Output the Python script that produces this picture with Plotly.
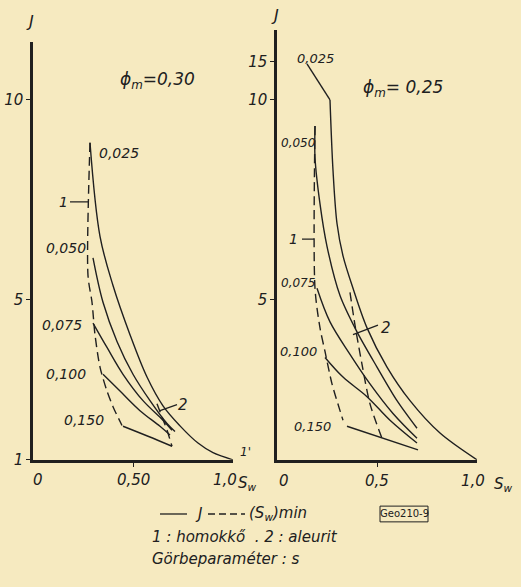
import plotly.graph_objects as go

# ---------------- data: left panel (phi_m = 0.30) ----------------
L025_sw = [0.285, 0.335, 0.40, 0.485, 0.57, 0.65, 0.735, 0.825, 0.90, 1.0]
L025_j = [8.93, 6.59, 5.36, 4.13, 3.07, 2.35, 1.85, 1.42, 1.18, 1.0]
L050_sw = [0.30, 0.35, 0.42, 0.50, 0.585, 0.67, 0.71]
L050_j = [6.05, 4.94, 3.96, 3.14, 2.48, 1.91, 1.71]
L075_sw = [0.30, 0.37, 0.45, 0.55, 0.65, 0.695]
L075_j = [4.42, 3.81, 3.14, 2.48, 1.99, 1.74]
L100_sw = [0.35, 0.435, 0.535, 0.635, 0.685]
L100_j = [3.14, 2.72, 2.23, 1.84, 1.62]
L150_sw = [0.45, 0.575, 0.695]
L150_j = [1.84, 1.59, 1.34]
L_min1_sw = [0.285, 0.275, 0.295, 0.31, 0.335, 0.37, 0.40, 0.445]
L_min1_j = [8.93, 5.61, 4.94, 4.13, 3.32, 2.72, 2.33, 1.86]
L_min2_sw = [0.62, 0.67, 0.695]
L_min2_j = [2.40, 1.75, 1.34]

# ---------------- data: right panel (phi_m = 0.25) ----------------
R025a_sw = [0.15, 0.265]
R025a_j = [14.7, 10.0]
R025_sw = [0.265, 0.28, 0.30, 0.33, 0.38, 0.45, 0.55, 0.665, 0.815, 1.0]
R025_j = [10.0, 8.24, 6.91, 6.10, 5.29, 4.30, 3.32, 2.48, 1.67, 1.0]
R050_sw = [0.19, 0.19, 0.215, 0.25, 0.315, 0.40, 0.50, 0.60, 0.70]
R050_j = [9.35, 8.56, 7.40, 6.34, 5.11, 4.20, 3.32, 2.48, 1.79]
R075_sw = [0.20, 0.265, 0.365, 0.465, 0.58, 0.70]
R075_j = [5.29, 4.45, 3.64, 2.90, 2.16, 1.54]
R100_sw = [0.24, 0.33, 0.45, 0.565, 0.70]
R100_j = [3.56, 3.07, 2.58, 1.99, 1.42]
R150_sw = [0.35, 0.705]
R150_j = [1.84, 1.25]
R_min1_sw = [0.19, 0.19, 0.215, 0.24, 0.275, 0.315, 0.33]
R_min1_j = [9.35, 5.29, 4.30, 3.71, 2.90, 2.23, 1.99]
R_min2_sw = [0.365, 0.39, 0.425, 0.465, 0.525]
R_min2_j = [5.19, 4.37, 3.39, 2.40, 1.54]

# tick labels
left_yticks = [1, 5, 10]
right_yticks = [5, 10, 15]
x_tickvals = [0, 0.5, 1.0]
left_xtext = ["0", "0,50", "1,0"]
right_xtext = ["0", "0,5", "1,0"]


# right panel J axis is compressed above J = 10
def T(j):
    return j if j <= 10 else 10 + (j - 10) * 0.192


INK = "#202020"
BG = "#F6EAC0"
FONT = "DejaVu Sans, Liberation Sans, sans-serif"

fig = go.Figure()


def curve(sw, j, axis, dash="solid", smooth=1.0, tr=False):
    ys = [T(v) for v in j] if tr else j
    line = dict(color=INK, width=1.4, dash=dash)
    if smooth:
        line.update(shape="spline", smoothing=smooth)
    fig.add_trace(go.Scatter(
        x=sw, y=ys, mode="lines", line=line,
        xaxis="x" if axis == 1 else "x2",
        yaxis="y" if axis == 1 else "y2",
        showlegend=False, hoverinfo="skip"))


DASH = "9px,5px"
# left
curve(L025_sw, L025_j, 1, smooth=1.0)
curve(L050_sw, L050_j, 1)
curve(L075_sw, L075_j, 1)
curve(L100_sw, L100_j, 1)
curve(L150_sw, L150_j, 1)
curve(L_min1_sw, L_min1_j, 1, dash=DASH, smooth=0.8)
curve(L_min2_sw, L_min2_j, 1, dash=DASH, smooth=0)
# right
curve(R025a_sw, R025a_j, 2, smooth=0, tr=True)
curve(R025_sw, R025_j, 2, smooth=0.9)
curve(R050_sw, R050_j, 2, smooth=0.8)
curve(R075_sw, R075_j, 2)
curve(R100_sw, R100_j, 2)
curve(R150_sw, R150_j, 2, smooth=0)
curve(R_min1_sw, R_min1_j, 2, dash=DASH, smooth=0.8)
curve(R_min2_sw, R_min2_j, 2, dash=DASH, smooth=0.8)

ax_common = dict(showgrid=False, zeroline=False, showline=True, linecolor=INK,
                 linewidth=2.5, ticks="outside", ticklen=4, tickcolor=INK,
                 tickwidth=1.2,
                 tickfont=dict(family=FONT, size=15, color=INK, style="italic"))

fig.update_layout(
    width=521, height=587,
    margin=dict(l=0, r=0, t=0, b=0),
    paper_bgcolor=BG, plot_bgcolor=BG,
    font=dict(family=FONT, size=14, color=INK, style="italic"),
    xaxis=dict(domain=[33 / 521, 233 / 521], range=[0, 1], anchor="y",
               tickvals=[0.5], ticktext=[""], **ax_common),
    yaxis=dict(domain=[0.2044, 0.9268], range=[1, 11.44], anchor="x",
               tickvals=left_yticks, ticktext=[str(v) for v in left_yticks],
               **ax_common),
    xaxis2=dict(domain=[277 / 521, 477 / 521], range=[0, 1], anchor="y2",
                tickvals=[0.5], ticktext=[""], **ax_common),
    yaxis2=dict(domain=[0.2044, 0.9489], range=[1, 11.76], anchor="x2",
                tickvals=[T(v) for v in right_yticks],
                ticktext=[str(v) for v in right_yticks], **ax_common),
)

ann = []


def txt(x, y, s, xref="paper", yref="paper", size=14, xanchor="center",
        style="italic", yanchor="middle", xshift=0, yshift=0):
    ann.append(dict(x=x, y=y, xref=xref, yref=yref, text=s, showarrow=False,
                    xanchor=xanchor, yanchor=yanchor, xshift=xshift, yshift=yshift,
                    font=dict(family=FONT, size=size, color=INK, style=style)))


# x tick labels (under the axis, offset like the original lettering)
for v, s in zip(x_tickvals, left_xtext):
    sh = {0: 5, 0.5: 0, 1.0: -8}[v]
    txt(v, 0, s, "x", "paper", size=15, xshift=sh, yshift=587 - 489)
for v, s in zip(x_tickvals, right_xtext):
    sh = {0: 7, 0.5: 0, 1.0: -4}[v]
    txt(v, 0, s, "x2", "paper", size=15, xshift=sh, yshift=587 - 490)

# left panel labels
txt(0.43, 8.68, "0,025", "x", "y")
txt(0.165, 6.30, "0,050", "x", "y")
txt(0.145, 4.37, "0,075", "x", "y")
txt(0.165, 3.14, "0,100", "x", "y")
txt(0.255, 1.99, "0,150", "x", "y")
txt(0.62, 10.48, "ϕ<sub>m</sub>=0,30", "x", "y", size=17)
txt(0.15, 7.45, "1", "x", "y")
txt(0.75, 2.36, "2", "x", "y", size=15)
# right panel labels
txt(0.19, T(15.4), "0,025", "x2", "y2", size=13)
txt(0.105, 8.93, "0,050", "x2", "y2", size=12)
txt(0.105, 5.41, "0,075", "x2", "y2", size=12)
txt(0.105, 3.71, "0,100", "x2", "y2", size=13)
txt(0.175, 1.84, "0,150", "x2", "y2", size=13)
txt(0.63, 10.29, "ϕ<sub>m</sub>= 0,25", "x2", "y2", size=17)
txt(0.08, 6.52, "1", "x2", "y2")
txt(0.545, 4.30, "2", "x2", "y2", size=15)

# axis titles
txt(30 / 521, 1 - 22 / 587, "J", size=16)
txt(275 / 521, 1 - 16 / 587, "J", size=16)
txt(236 / 521, 1 - 491 / 587, "S<sub>w</sub>", size=15, xanchor="left")
txt(492 / 521, 1 - 492 / 587, "S<sub>w</sub>", size=15, xanchor="left")
txt(238 / 521, 1 - 459 / 587, "1'", size=12, xanchor="left")

# legend / notes
txt(193 / 521, 1 - 522 / 587, "J", size=15, xanchor="left")
txt(247 / 521, 1 - 522 / 587, "(S<sub>w</sub>)min", size=15, xanchor="left")
txt(150 / 521, 1 - 545 / 587, "1 : homokkő  . 2 : aleurit", size=15, xanchor="left")
txt(150 / 521, 1 - 568 / 587, "Görbeparaméter : s", size=15, xanchor="left")
txt(404 / 521, 1 - 522 / 587, "Geo210-9", size=10, style="normal")
fig.update_layout(annotations=ann)

shapes = [
    # leader lines
    dict(type="line", xref="x", yref="y", x0=0.185, x1=0.275, y0=7.45, y1=7.45),
    dict(type="line", xref="x", yref="y", x0=0.635, x1=0.72, y0=2.23, y1=2.38),
    dict(type="line", xref="x2", yref="y2", x0=0.125, x1=0.185, y0=6.52, y1=6.52),
    dict(type="line", xref="x2", yref="y2", x0=0.38, x1=0.505, y0=4.13, y1=4.37),
    # legend samples
    dict(type="line", xref="paper", yref="paper", x0=160 / 521, x1=187 / 521,
         y0=1 - 522 / 587, y1=1 - 522 / 587),
    dict(type="line", xref="paper", yref="paper", x0=208 / 521, x1=245 / 521,
         y0=1 - 522 / 587, y1=1 - 522 / 587, line=dict(dash="7px,4px")),
    # Geo box
    dict(type="rect", xref="paper", yref="paper", x0=380 / 521, x1=428 / 521,
         y0=1 - 530 / 587, y1=1 - 514 / 587, line=dict(width=1)),
]
for s in shapes:
    s.setdefault("line", {})
    s["line"].setdefault("color", INK)
    s["line"].setdefault("width", 1.3)
fig.update_layout(shapes=shapes)

fig.write_html("out.html", config={"displayModeBar": False},
               post_script="document.body.style.margin='0';document.body.style.overflow='hidden';")
